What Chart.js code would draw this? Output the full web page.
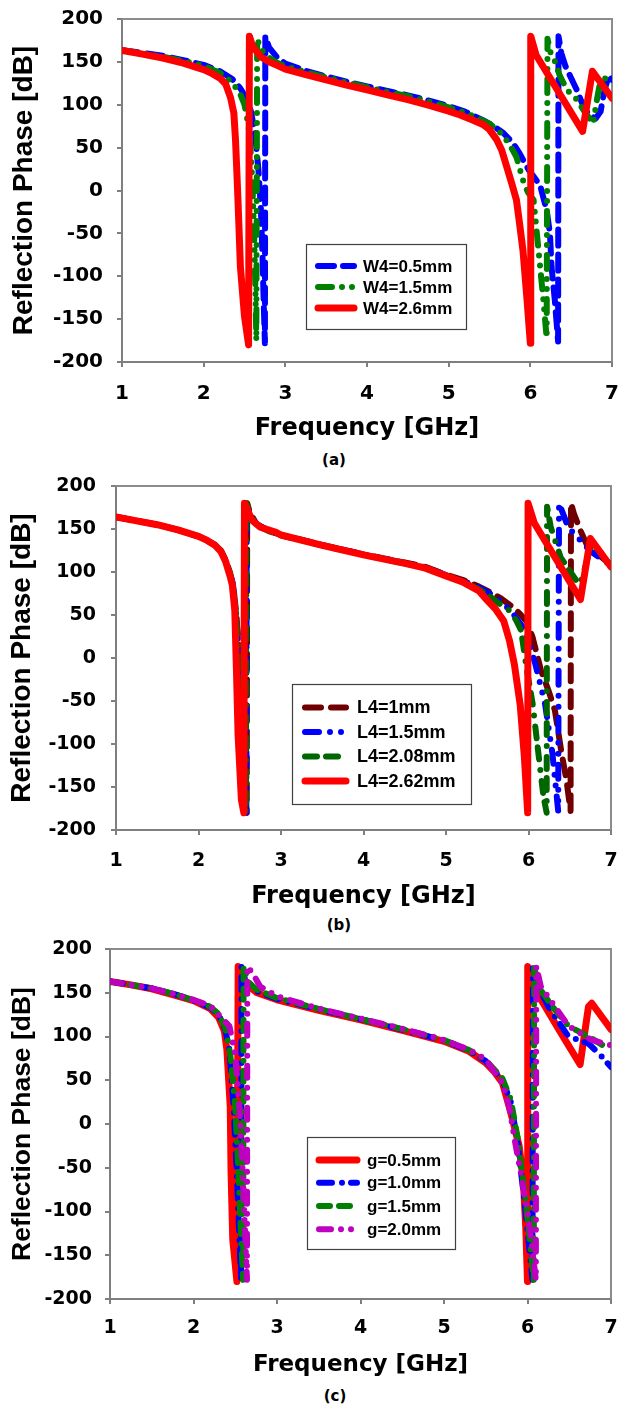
<!DOCTYPE html>
<html>
<head>
<meta charset="utf-8">
<script src="https://cdn.jsdelivr.net/npm/chart.js@4.4.1/dist/chart.umd.min.js"></script>
<style>
body { margin: 0; background: #fff; }
#wrap { position: relative; width: 619px; height: 1408px; }
canvas { position: absolute; left: 0; }
.cap { position: absolute; width: 60px; text-align: center; font: bold 15px "DejaVu Sans"; line-height: 18px; color: #000; }
</style>
</head>
<body>
<div id="wrap">
  <canvas id="chartA" width="619" height="443" style="top:0px"></canvas>
  <div class="cap" style="left:304px;top:451px">(a)</div>
  <canvas id="chartB" width="619" height="441" style="top:470px"></canvas>
  <div class="cap" style="left:309px;top:916px">(b)</div>
  <canvas id="chartC" width="619" height="439" style="top:940px"></canvas>
  <div class="cap" style="left:305px;top:1387px">(c)</div>
</div>
<script>
// axis ticks shared by the three panels
const xTicks = [1, 2, 3, 4, 5, 6, 7];
const yTicks = [-200, -150, -100, -50, 0, 50, 100, 150, 200];

// ---- (a) W4 sweep : [frequency GHz, phase]
const labelsA = ["W4=0.5mm", "W4=1.5mm", "W4=2.6mm"];
const a_w4_05 = [[1.0,163.5],[1.25,160.5],[1.5,157],[1.75,152],[2.0,146.5],[2.2,139],[2.35,130],[2.45,119],[2.52,108],[2.58,92],[2.63,65],[2.67,25],[2.7,-20],[2.72,-75],[2.735,-130],[2.75,-178],[2.755,180],[2.8,167],[2.9,155],[3.0,148],[3.25,139.5],[3.5,133],[3.75,127],[4.0,121.5],[4.25,116],[4.5,111],[4.75,105],[5.0,98.5],[5.2,92],[5.42,82],[5.55,75],[5.67,67],[5.79,55],[5.87,43],[5.98,24],[6.05,15],[6.12,6],[6.2,-23],[6.24,-50],[6.26,-89],[6.3,-128],[6.34,-176],[6.345,180],[6.38,160],[6.43,145],[6.49,133],[6.57,117],[6.65,98],[6.72,88],[6.8,84],[6.86,92],[6.91,118],[6.96,133],[7.0,129]];
const a_w4_15 = [[1.0,163.5],[1.25,160],[1.5,156],[1.75,151],[2.0,145.5],[2.2,137],[2.35,126],[2.45,112],[2.5,100],[2.55,75],[2.58,40],[2.6,0],[2.62,-60],[2.635,-120],[2.645,-175],[2.655,177],[2.7,165],[2.8,155],[2.9,149],[3.0,145],[3.25,138],[3.5,132],[3.75,126],[4.0,120.5],[4.25,115],[4.5,110],[4.75,104],[5.0,97],[5.25,89],[5.5,78],[5.65,66],[5.75,53],[5.83,39],[5.91,12],[5.97,-2],[6.04,-11],[6.08,-50],[6.12,-89],[6.16,-128],[6.2,-172],[6.21,177],[6.25,160],[6.3,151],[6.36,134],[6.45,117],[6.57,106],[6.65,94],[6.77,78],[6.81,103],[6.85,124],[6.94,133],[7.0,130]];
const a_w4_26 = [[1.0,163.4],[1.25,159],[1.5,154.5],[1.75,148.5],[2.0,141],[2.1,136.5],[2.2,131],[2.27,124],[2.33,108],[2.37,90],[2.39,59],[2.405,25],[2.42,-11],[2.45,-89],[2.5,-147],[2.55,-180],[2.56,180],[2.6,168],[2.7,156],[2.8,150],[2.9,146],[3.0,141.5],[3.25,135],[3.5,129],[3.75,123],[4.0,117.5],[4.25,111.5],[4.5,106],[4.75,99.5],[5.0,92.5],[5.14,88],[5.3,82],[5.42,77],[5.5,71],[5.59,59],[5.65,47],[5.71,28],[5.77,9],[5.83,-11],[5.87,-40],[5.91,-70],[5.96,-128],[6.0,-178],[6.005,180],[6.07,158],[6.64,69],[6.76,139],[7.0,107.5]];

// ---- (b) L4 sweep
const labelsB = ["L4=1mm", "L4=1.5mm", "L4=2.08mm", "L4=2.62mm"];
const b_l4_1 = [[1.0,164],[1.25,159.5],[1.5,155],[1.75,149],[2.0,141.5],[2.1,137],[2.2,131.5],[2.27,125],[2.33,114],[2.38,100],[2.42,85],[2.46,50],[2.5,-10],[2.53,-90],[2.56,-160],[2.585,-180],[2.59,180],[2.62,170],[2.7,156],[2.85,148],[3.0,143],[3.5,131.5],[4.0,120.5],[4.5,111],[4.75,106],[5.0,97],[5.2,91],[5.4,83],[5.55,76],[5.67,69],[5.81,59],[5.9,51],[5.98,42],[6.05,24],[6.15,-14],[6.25,-40],[6.32,-61],[6.4,-110],[6.46,-142],[6.51,-178],[6.515,180],[6.55,168],[6.63,148],[6.72,129],[6.82,122],[6.9,116],[7.0,108]];
const b_l4_15 = [[1.0,164],[1.25,159.5],[1.5,155],[1.75,149],[2.0,141.5],[2.1,137],[2.2,131.5],[2.27,125],[2.33,113],[2.38,99],[2.42,84],[2.46,48],[2.5,-12],[2.53,-92],[2.56,-162],[2.58,-180],[2.585,180],[2.62,169],[2.7,156],[2.85,148],[3.0,143],[3.5,131.5],[4.0,120.5],[4.5,110.5],[4.75,105.5],[5.0,96.5],[5.2,90],[5.4,82],[5.55,74],[5.7,63],[5.81,52],[5.96,32],[6.08,-6],[6.2,-53],[6.29,-111],[6.36,-178],[6.37,180],[6.43,165],[6.48,152],[6.6,140],[6.75,124],[7.0,108]];
const b_l4_208 = [[1.0,164],[1.25,159.5],[1.5,155],[1.75,149],[2.0,141.5],[2.1,137],[2.2,131.5],[2.27,125],[2.33,113],[2.38,98],[2.42,82],[2.46,45],[2.5,-15],[2.53,-95],[2.555,-165],[2.575,-180],[2.58,180],[2.62,168],[2.7,155],[2.85,147.5],[3.0,142.5],[3.5,131],[4.0,120],[4.5,110],[4.75,105],[5.0,96],[5.2,89],[5.4,80],[5.5,74],[5.65,63],[5.77,55],[5.85,44],[5.91,32],[5.98,-14],[6.05,-53],[6.12,-111],[6.18,-160],[6.22,-180],[6.225,176],[6.27,152],[6.39,117],[6.58,90],[6.63,86],[6.7,110],[6.77,136],[7.0,107]];
const b_l4_262 = [[1.0,164],[1.25,159.5],[1.5,155],[1.75,149],[2.0,141.5],[2.1,137],[2.2,131],[2.27,124],[2.33,112],[2.38,96],[2.41,85],[2.44,55],[2.46,-14],[2.48,-90],[2.52,-165],[2.55,-180],[2.557,180],[2.58,175],[2.65,160],[2.75,152],[2.94,146],[3.0,143],[3.5,131],[4.0,120],[4.5,110],[4.75,104.5],[5.0,95.5],[5.2,88.5],[5.4,78],[5.5,67],[5.6,57],[5.7,43],[5.77,20],[5.83,-8],[5.9,-55],[5.95,-115],[5.99,-180],[5.995,180],[6.07,157],[6.63,68],[6.75,139],[7.0,106]];

// ---- (c) g sweep
const labelsC = ["g=0.5mm", "g=1.0mm", "g=1.5mm", "g=2.0mm"];
const c_g_05 = [[1.0,163],[1.25,159],[1.5,154.5],[1.75,148],[2.0,141],[2.2,132],[2.3,122],[2.37,106],[2.4,85],[2.44,20],[2.45,-56],[2.47,-132],[2.52,-180],[2.535,180],[2.62,161],[2.76,150],[3.0,142],[3.5,130],[4.0,119],[4.5,107],[5.0,94.5],[5.3,83],[5.5,70],[5.6,60],[5.7,47],[5.8,13],[5.9,-25],[5.95,-64],[5.98,-120],[6.0,-180],[6.003,180],[6.07,157],[6.4,104],[6.63,68],[6.73,134],[6.77,138],[7.0,108]];
const c_g_10 = [[1.0,163],[1.25,159],[1.5,155],[1.75,149],[2.0,141.5],[2.2,133],[2.3,125],[2.38,108],[2.43,85],[2.48,20],[2.52,-60],[2.55,-130],[2.57,-178],[2.575,180],[2.62,164],[2.75,152],[3.0,143],[3.5,131],[4.0,120],[4.5,108],[5.0,95.5],[5.3,84],[5.5,72],[5.7,50],[5.8,25],[5.88,-20],[5.97,-94],[6.06,-178],[6.065,178],[6.11,161],[6.25,134],[6.49,100],[6.73,92],[6.87,79],[7.0,65]];
const c_g_15 = [[1.0,163],[1.25,159],[1.5,155],[1.75,149],[2.0,141.5],[2.2,134],[2.3,126],[2.38,110],[2.44,80],[2.5,20],[2.54,-60],[2.57,-130],[2.595,-178],[2.6,180],[2.65,163],[2.75,154],[3.0,144],[3.5,131.5],[4.0,120],[4.5,108.5],[5.0,96],[5.3,84.5],[5.5,73],[5.7,52],[5.8,28],[5.88,-15],[5.98,-90],[6.075,-178],[6.08,178],[6.16,153],[6.3,134],[6.49,112],[6.73,100],[6.92,89],[7.0,86]];
const c_g_20 = [[1.0,163],[1.25,159],[1.5,155],[1.75,149],[2.0,142],[2.2,135],[2.33,122],[2.43,112],[2.5,80],[2.55,20],[2.59,-56],[2.62,-130],[2.64,-178],[2.645,180],[2.71,172],[2.8,157],[3.0,146],[3.5,132],[4.0,120.5],[4.5,109],[5.0,96],[5.3,85],[5.5,74],[5.7,47],[5.78,20],[5.85,-20],[5.92,-56],[6.02,-113],[6.1,-178],[6.105,180],[6.16,157],[6.3,138],[6.49,112],[6.77,96],[7.0,90]];

// line looks (Excel style thick dashed lines)
const BLUE = "#0000ff", GREEN = "#008000", DKGREEN = "#006600", RED = "#ff0000", MAROON = "#700000", MAGENTA = "#c000c0";
const DASH_LONG = [16, 9];
const DASH_DOTDOT = [14, 10, 0, 10, 0, 10];
const DASH_DASHDOT = [12, 9, 12, 11, 0, 11];
const DASH_DOT = [13, 10, 0, 9];
const SOLID = [];

const frame = {
  id: "frame",
  beforeDatasetsDraw(chart) {
    const { ctx, chartArea: a } = chart;
    ctx.save();
    ctx.strokeStyle = "#8c8c8c";
    ctx.lineWidth = 2;
    ctx.beginPath();
    ctx.moveTo(a.left, a.top);
    ctx.lineTo(a.right, a.top);
    ctx.lineTo(a.right, a.bottom);
    ctx.stroke();
    ctx.restore();
  }
};

// legend box that sits inside the plot, like the Excel one
const boxLegend = {
  id: "boxLegend",
  afterDraw(chart, args, o) {
    const ctx = chart.ctx;
    ctx.save();
    ctx.fillStyle = "#fff";
    ctx.fillRect(o.x, o.y, o.w, o.h);
    ctx.strokeStyle = "#404040";
    ctx.lineWidth = 1.2;
    ctx.strokeRect(o.x, o.y, o.w, o.h);
    chart.data.datasets.forEach((ds, i) => {
      const y = o.rows[i];
      ctx.save();
      ctx.strokeStyle = ds.borderColor;
      ctx.lineWidth = ds.borderWidth;
      ctx.lineCap = "round";
      ctx.setLineDash(ds.borderDash);
      ctx.beginPath();
      ctx.moveTo(o.x0, y);
      ctx.lineTo(o.x1, y);
      ctx.stroke();
      ctx.restore();
      ctx.fillStyle = "#000";
      ctx.font = "bold " + o.font + "px 'Liberation Sans'";
      ctx.textBaseline = "middle";
      ctx.fillText(ds.label, o.tx, y + 1);
    });
    ctx.restore();
  }
};

function makeChart(id, labels, series, colors, dashes, look) {
  const n = series.length;
  return new Chart(document.getElementById(id), {
    type: "line",
    data: {
      datasets: series.map((s, i) => ({
        label: labels[i],
        data: s.map(p => ({ x: p[0], y: p[1] })),
        borderColor: colors[i],
        borderWidth: dashes[i].length ? 6 : 7,
        borderDash: dashes[i],
        borderCapStyle: "round",
        borderJoinStyle: "round",
        pointRadius: 0,
        tension: 0,
        order: n - i
      }))
    },
    options: {
      responsive: false,
      animation: false,
      devicePixelRatio: 1,
      events: [],
      layout: { padding: { top: look.pt, right: look.pr, left: 0, bottom: 0 } },
      plugins: { legend: { display: false }, tooltip: { enabled: false }, boxLegend: look.legend },
      scales: {
        x: {
          type: "linear", min: 1, max: 7,
          afterBuildTicks: s => { s.ticks = xTicks.map(v => ({ value: v })); },
          afterFit: s => { s.height = look.xh; s.paddingLeft = 0; s.paddingRight = 0; },
          ticks: { autoSkip: false, maxRotation: 0, color: "#000", padding: look.xpad,
                   font: { family: "DejaVu Sans", weight: "bold", size: look.tick } },
          grid: { drawOnChartArea: false, tickLength: 5, color: "#7f7f7f", tickColor: "#7f7f7f", lineWidth: 2 },
          border: { color: "#7f7f7f", width: 2 },
          title: { display: true, text: "Frequency [GHz]", color: "#000", padding: 0,
                   font: { family: "DejaVu Sans", weight: "bold", size: look.xt } }
        },
        y: {
          min: -200, max: 200,
          afterBuildTicks: s => { s.ticks = yTicks.map(v => ({ value: v })); },
          afterFit: s => { s.width = look.yw; s.paddingTop = 0; s.paddingBottom = 0; },
          ticks: { autoSkip: false, color: "#000", padding: look.ypad,
                   font: { family: "DejaVu Sans", weight: "bold", size: look.tick } },
          grid: { drawOnChartArea: false, tickLength: 5, color: "#7f7f7f", tickColor: "#7f7f7f", lineWidth: 2 },
          border: { color: "#7f7f7f", width: 2 },
          title: { display: true, text: "Reflection Phase [dB]", color: "#000", padding: { top: look.ytp, bottom: 0 },
                   font: { family: "Liberation Sans", weight: "bold", size: look.yt } }
        }
      }
    },
    plugins: [frame, boxLegend]
  });
}

makeChart("chartA", labelsA, [a_w4_05, a_w4_15, a_w4_26], [BLUE, GREEN, RED],
  [DASH_LONG, DASH_DOTDOT, SOLID],
  { pt: 19, pr: 7, yw: 122, xh: 81, tick: 20, xpad: 15, ypad: 14, xt: 24, yt: 28, ytp: 7,
    legend: { x: 306.5, y: 244.5, w: 160, h: 85, rows: [266, 287, 308], x0: 318, x1: 354, tx: 363, font: 17 } });

makeChart("chartB", labelsB, [b_l4_1, b_l4_15, b_l4_208, b_l4_262], [MAROON, BLUE, DKGREEN, RED],
  [[16, 10], [14, 11, 0, 11, 0, 11], DASH_DASHDOT, SOLID],
  { pt: 16, pr: 8, yw: 116, xh: 81, tick: 19, xpad: 15, ypad: 15, xt: 24, yt: 28, ytp: 5,
    legend: { x: 292.5, y: 214.5, w: 179, h: 120, rows: [237.5, 262, 286.5, 311], x0: 305, x1: 346, tx: 357, font: 18 } });

makeChart("chartC", labelsC, [c_g_05, c_g_10, c_g_15, c_g_20], [RED, BLUE, GREEN, MAGENTA],
  [SOLID, DASH_DOT, [11, 9, 11, 10, 0, 10], [12, 10, 0, 10, 0, 10]],
  { pt: 9, pr: 8, yw: 110, xh: 80, tick: 19, xpad: 13, ypad: 13, xt: 23, yt: 26.5, ytp: 7,
    legend: { x: 307.5, y: 197.5, w: 148, h: 112, rows: [220, 242.7, 266, 289.3], x0: 319, x1: 357, tx: 367, font: 17 } });
</script>
</body>
</html>
